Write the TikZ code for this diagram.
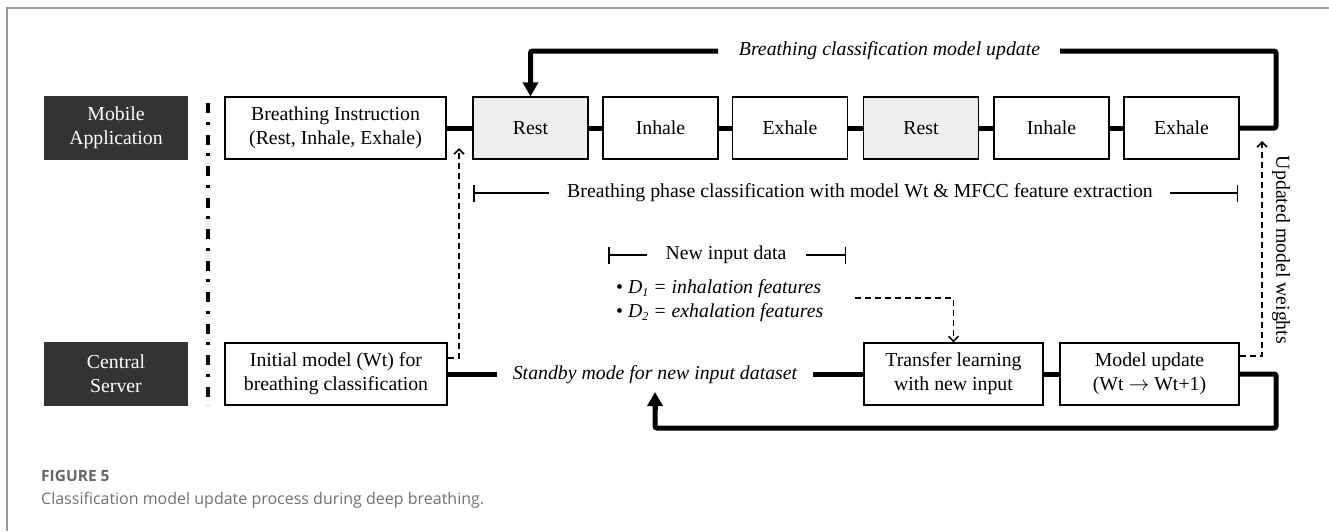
\documentclass[tikz,border=0pt]{standalone}
\usepackage{fontspec}
\setmainfont{Liberation Serif}
\newfontfamily\capfont{Open Sans}
\usetikzlibrary{arrows.meta}
\definecolor{darkbox}{HTML}{333333}
\definecolor{restfill}{HTML}{EEEEEE}
\definecolor{capgray}{HTML}{707070}
\definecolor{figgray}{HTML}{666666}
\definecolor{framegray}{HTML}{999999}
\tikzset{
  txt/.style={font=\fontsize{19.8}{24}\selectfont, align=center, inner sep=0pt},
  box/.style={draw=black, line width=1.2pt, txt, minimum height=62pt},
  dark/.style={box, fill=darkbox, draw=darkbox, text=white, minimum width=142pt},
  restbox/.style={box, fill=restfill, minimum width=115pt},
  phasebox/.style={box, fill=white, minimum width=115pt},
  thick line/.style={line width=5pt},
  thick arrow/.style={line width=5pt, -{Triangle[width=15pt,length=14pt]}},
  dash arrow/.style={line width=1.8pt, dash pattern=on 6pt off 4pt, -{Straight Barb[length=5pt,width=10pt,line width=1.6pt]}},
  bar line/.style={line width=1.5pt},
}
\begin{document}
\begin{tikzpicture}[x=1pt,y=-1pt]
\useasboundingbox (0,0) rectangle (1329,531);
% frame
\draw[framegray, line width=1.2pt] (1329,8) -- (7,8) -- (7,531);
% left labels
\node[dark] (mob) at (116,128) {Mobile\\Application};
\node[dark] (srv) at (116,374) {Central\\Server};
\coordinate (dtop) at (208,103);
\coordinate (dbot) at (208,405);
\draw[line width=3.2pt, dash pattern=on 10pt off 8.5pt on 3pt off 10pt] (dtop) -- (dbot);
% top row
\node[box, minimum width=221pt] (instr) at (335.5,128) {Breathing Instruction\\(Rest, Inhale, Exhale)};
\node[restbox] (r1) at (530.5,128) {Rest};
\node[phasebox] (i1) at (660.5,128) {Inhale};
\node[phasebox] (e1) at (790,128) {Exhale};
\node[restbox] (r2) at (921,128) {Rest};
\node[phasebox] (i2) at (1051.5,128) {Inhale};
\node[phasebox] (e2) at (1181.5,128) {Exhale};
\draw[thick line] (instr.east) -- (r1.west);
\draw[thick line] (r1.east) -- (i1.west);
\draw[thick line] (i1.east) -- (e1.west);
\draw[thick line] (e1.east) -- (r2.west);
\draw[thick line] (r2.east) -- (i2.west);
\draw[thick line] (i2.east) -- (e2.west);
% top feedback
\node[txt, font=\fontsize{19.8}{24}\selectfont\itshape] (upd) at (889.5,51) {Breathing classification model update};
\draw[thick line, rounded corners=2pt] (e2.east) -- (1276,128) -- (1276,51) -- (1060,51);
\draw[thick arrow, rounded corners=2pt] (718,51) -- (r1.north |- 0,51) -- (r1.north);
% bottom row
\node[box, minimum width=222pt] (init) at (336,374) {Initial model (Wt) for\\breathing classification};
\node[box, minimum width=179pt] (tl) at (953.5,374) {Transfer learning\\with new input};
\node[box, minimum width=179pt] (mu) at (1149.5,374) {Model update\\(Wt $\rightarrow$ Wt+1)};
\node[txt, font=\fontsize{19.8}{24}\selectfont\itshape] (stby) at (655,375) {Standby mode for new input dataset};
\draw[thick line] (init.east) -- (497,374);
\draw[thick line] (813,374) -- (tl.west);
\draw[thick line] (tl.east) -- (mu.west);
\draw[thick line, rounded corners=2pt] (mu.east) -- (1276,374) -- (1276,428) -- (655,428) -- (655,405);
\draw[line width=5pt, -{Triangle[width=15pt,length=14pt]}] (655,410) -- (655,392);
% phase classification bar
\node[txt] (phase) at (860,193) {Breathing phase classification with model Wt \& MFCC feature extraction};
\draw[bar line, {Bar[width=17pt,line width=1.5pt]}-] (473,193) -- (549,193);
\draw[bar line, -{Bar[width=17pt,line width=1.5pt]}] (1170,193) -- (1238,193);
% new input data
\node[txt] (nid) at (726,255) {New input data};
\draw[bar line, {Bar[width=17pt,line width=1.5pt]}-] (608,255) -- (647,255);
\draw[bar line, -{Bar[width=17pt,line width=1.5pt]}] (806,255) -- (846,255);
\node[txt, anchor=west] (d1) at (616,289) {\textbullet\ \textit{D\raisebox{-0.25ex}{\fontsize{12}{12}\selectfont 1} = inhalation features}};
\node[txt, anchor=west] (d2) at (616,313) {\textbullet\ \textit{D\raisebox{-0.25ex}{\fontsize{12}{12}\selectfont 2} = exhalation features}};
\draw[dash arrow] (855,298) -- (tl.north |- 0,298) -- (tl.north);
% dashed updates
\draw[dash arrow] (init.east |- 0,358) -- (459,358) -- (459,148);
\draw[dash arrow] (mu.east |- 0,356) -- (1262,356) -- (1262,141);
\node[txt, rotate=-90] (umw) at (1281,250) {Updated model weights};
% caption
\node[anchor=west, inner sep=0pt, text=figgray, font=\capfont\bfseries\fontsize{15.5}{16}\selectfont] (fig) at (41,476) {FIGURE 5};
\node[anchor=west, inner sep=0pt, text=capgray, font=\capfont\fontsize{16}{16}\selectfont] (cap) at (41,500) {Classification model update process during deep breathing.};
\end{tikzpicture}
\end{document}
